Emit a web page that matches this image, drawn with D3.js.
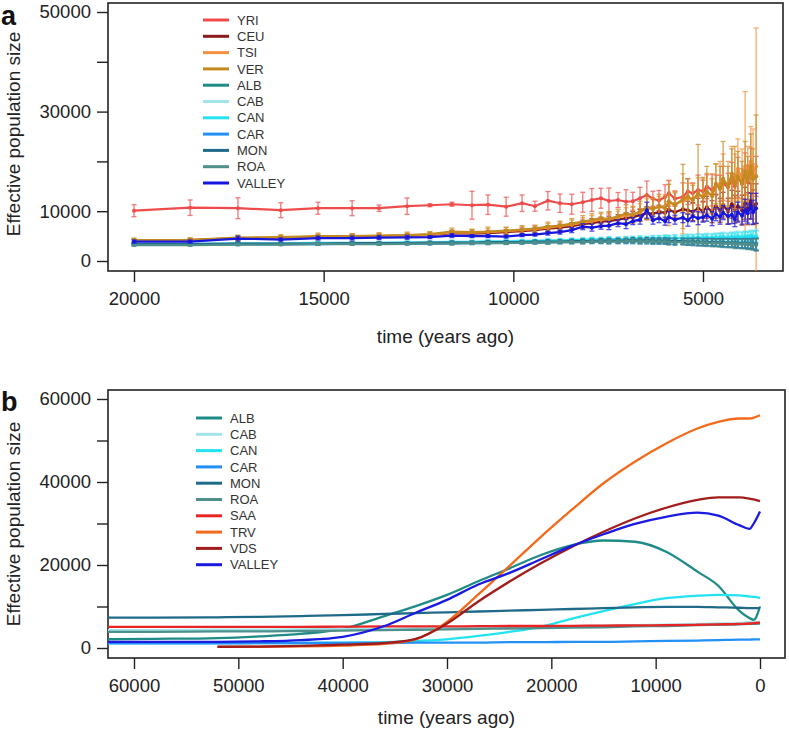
<!DOCTYPE html>
<html>
<head>
<meta charset="utf-8">
<script src="https://cdnjs.cloudflare.com/ajax/libs/d3/7.8.5/d3.min.js"></script>
<style>
  body { margin: 0; background: #fff; }
  svg { font-family: "Liberation Sans", Arial, Helvetica, sans-serif; }
</style>
</head>
<body>
<div id="chart"></div>
<script>
// ---------- panel a : time grid (years ago) and Ne estimates with error half-widths ----------
var timeA = [20000,18520,17260,16130,15150,14250,13540,12800,12200,11620,11090,10670,10190,9770,9430,9090,8770,8460,8170,
  7930,7690,7480,7240,7030,6850,6660,6480,6320,6160,6000,5900,5740,5530,5400,5270,5130,5000,4900,4760,4660,4550,4470,4340,4240,4160,4080,3970,3890,3820,3740,3680,3600];

var yri = [10100,10700,10600,10200,10600,10600,10600, 11000,11200,11400,11200,11300,10900,11600,11000,12100,11600,11400,11800,
  12250,12600,12050,12250,11900,12000,12600,13250,12500,12150,12900,13600,12500,12900,13950,13600,14250,14000,14900,14250,15260,14600,15600,14800,16200,15000,16800,15500,17500,15800,18200,16500,17000];
var yriErr = [1200,1550,2100,1500,1200,1500,650, 1650,300,400,2800,1950,1900,1650,1000,1850,1850,2000,2000,
  2300,2000,2600,1500,2400,1800,2200,2800,1500,2000,2400,2600,1500,2800,2600,2000,3000,2200,2400,3200,2000,2600,3400,2800,3600,2400,4000,3000,4200,3500,4500,3000,4000];

var ceu = [4100,4200,4600,4600,4800,4900,5000, 5100,5200,5600,5500,5600,5800,6000,6200,6500,6700,7000,7400,
  7600,7900,8000,8300,8600,8800,9200,9600,9500,9800,9700,10300,9800,10400,10200,9900,10600,10000,10800,9900,11000,10200,11200,10000,11400,10400,11000,10200,11600,10500,12000,10800,11500];
var ceuErr = [300,300,400,400,400,400,400,400,400,500,500,500,500,600,600,600,700,700,800,
  900,900,1000,1000,1100,1100,1200,1300,1300,1400,1400,1600,1500,1800,1800,1800,2000,2000,2200,2200,2400,2400,2600,2600,2800,2800,3000,3000,3200,3200,3500,3500,4000];

var tsi = [4100,4200,4500,4700,4900,5000,5000, 5100,5300,5700,5700,5800,6000,6200,6400,6700,7000,7300,7700,
  8000,8300,8500,8700,9200,9400,9800,10500,10600,10800,11000,11600,11500,12000,12600,12500,13200,13000,13600,13400,15000,15500,16500,15000,17500,16000,18500,16500,19000,17000,20000,17500,19000];
var tsiErr = [300,400,400,400,500,500,500,500,500,600,600,700,700,700,700,800,800,900,1000,
  1100,1200,1300,1300,1500,1600,1700,2000,2000,2200,2300,4500,2600,5500,3000,3200,3500,3500,4000,4000,4500,4500,5000,5000,5500,5500,6000,6000,15000,6000,7000,9000,27800];

var ver = [4200,4250,4700,4800,5000,5000,5100, 5200,5400,5900,5800,5900,6100,6300,6500,6900,7100,7500,7900,
  8200,8600,8400,9000,9500,9200,10000,10800,10400,11000,10600,12000,11200,12400,13000,12200,13600,12800,14000,13000,15500,14500,16500,15000,17500,15500,17000,15500,18000,16000,19000,16500,17000];
var verErr = [400,400,500,500,600,500,600,600,500,700,600,900,700,800,700,900,900,1000,1200,
  1300,1200,1500,1400,1800,1600,2000,2500,2000,2400,2200,3400,2500,7000,3500,3000,9800,4000,5000,3500,4000,4500,7500,4000,5000,7500,5000,4500,6000,5000,6500,6000,12300];

var albA = [3300,3300,3400,3400,3500,3500,3500, 3550,3600,3600,3700,3700,3700,3800,3800,3800,3900,3900,4000,
  4000,4000,4100,4000,4100,4100,4000,4100,4000,4100,4000,4000,3900,4000,3900,3900,3800,3900,3800,3800,3700,3800,3700,3700,3600,3700,3600,3600,3500,3600,3500,3500,3400];
var cabA = [3500,3500,3600,3600,3700,3700,3700, 3800,3800,3900,3900,4000,4000,4100,4100,4200,4200,4300,4300,
  4400,4400,4500,4400,4500,4500,4600,4500,4600,4600,4700,4600,4700,4700,4800,4700,4800,4800,4900,4800,4900,4900,5000,4900,5000,5000,5100,5000,5100,5000,5200,5100,5200];
var canA = [3400,3400,3500,3500,3600,3600,3600, 3700,3700,3800,3800,3900,3900,4000,4000,4100,4100,4200,4200,
  4300,4300,4400,4300,4400,4400,4500,4400,4500,4500,4600,4500,4600,4500,4600,4600,4700,4600,4700,4600,4700,4700,4800,4600,4800,4700,4900,4700,4900,4800,5000,4800,4900];
var carA = [3300,3300,3400,3400,3400,3500,3500, 3500,3500,3600,3600,3600,3700,3700,3700,3800,3800,3800,3900,
  3900,3900,3900,4000,3900,4000,4000,3900,4000,3900,3900,3900,3800,3900,3800,3800,3800,3700,3800,3700,3700,3700,3600,3700,3600,3600,3600,3500,3600,3500,3500,3500,3400];
var monA = [3400,3400,3500,3500,3500,3600,3600, 3600,3700,3700,3700,3800,3800,3800,3900,3900,3900,4000,4000,
  4000,4100,4100,4100,4100,4200,4100,4200,4100,4100,4100,4000,4000,4000,3900,3900,3900,3800,3800,3800,3700,3700,3700,3600,3600,3600,3500,3500,3500,3400,3400,3400,3300];
var roaA = [3200,3200,3300,3300,3400,3400,3400, 3450,3500,3500,3600,3600,3600,3700,3700,3700,3800,3800,3800,
  3900,3900,3900,3900,4000,4000,3900,4000,3900,3900,3900,3800,3800,3800,3800,3700,3700,3700,3600,3600,3600,3600,3500,3500,3500,3400,3400,3400,3400,3300,3300,3300,3200];
// the six low populations have tiny, near-identical bars
var errLow = [200,200,250,200,250,250,250,250,250,300,300,300,300,300,300,350,350,350,400,
  400,400,450,450,450,500,500,500,550,550,550,600,600,600,650,650,700,700,700,750,750,800,800,850,850,900,900,950,950,1000,1000,1100,1200];

var valleyA = [3900,3900,4500,4300,4600,4600,4700, 4750,4800,5100,5000,5000,4900,5200,5300,5600,5800,6200,6900,
  6700,7000,7100,7600,7400,8000,8300,10200,8200,8600,8000,8800,8300,8700,8200,9000,8600,8800,9200,8500,9400,8900,9700,9000,9300,8400,9800,9100,10200,9600,11000,9800,10600];
var valleyErr = [300,300,500,300,400,400,400,400,300,400,300,300,300,300,300,400,400,500,600,
  700,600,800,700,900,700,900,1600,800,900,800,1100,900,1000,1200,1100,1300,1000,1200,1400,1300,1500,1400,1600,1800,1500,2000,1700,2200,2000,2600,2400,3000];

var namesA  = ["YRI","CEU","TSI","VER","ALB","CAB","CAN","CAR","MON","ROA","VALLEY"];
var colorsA = ["#ef4b4b","#8b1a1a","#f5913f","#c38b1f","#1f8b87","#a2e4ea","#22e3ef","#2290f5","#1f6a88","#4e8f8c","#1616df"];
var valuesA = [yri, ceu, tsi, ver, albA, cabA, canA, carA, monA, roaA, valleyA];
var errorsA = [yriErr, ceuErr, tsiErr, verErr, errLow, errLow, errLow, errLow, errLow, errLow, valleyErr];

// ---------- panel b : smoothed Ne curves ----------
var timeB = [62500,58000,52000,48000,44000,40000,36000,33000,30000,27000,24000,21000,18000,15000,12000,9000,6000,4000,2000,1000,600,0];
var albB = [2100,2200,2400,2800,3400,4600,7700,10100,12800,16100,19200,22400,24800,25900,25600,23200,18400,15000,9000,7200,6800,10000];
var cabB = [4300,4300,4400,4400,4500,4600,4600,4700,4800,4900,5000,5100,5200,5400,5500,5600,5800,5900,6000,6200,6200,6300];
var canB = [1200,1200,1200,1200,1200,1300,1400,1700,2100,2900,3900,5100,7100,8900,10600,12000,12600,12800,12700,12400,12300,12100];
var carB = [1100,1100,1100,1200,1200,1200,1200,1300,1300,1300,1400,1400,1500,1500,1600,1700,1800,1900,2000,2000,2100,2100];
var monB = [7300,7300,7400,7500,7700,7900,8200,8400,8600,8800,9000,9200,9400,9600,9800,9900,9900,9800,9700,9600,9600,9600];
var roaB = [3900,3900,4000,4000,4100,4200,4300,4400,4500,4600,4700,4800,4900,5000,5200,5300,5500,5600,5700,5800,5800,5900];
var saaB = [5100,5100,5100,5100,5100,5150,5200,5200,5200,5250,5300,5300,5350,5400,5450,5500,5600,5700,5800,5900,6000,6100];
var trvB = [null,null,250,300,400,600,1000,2100,6300,12900,19800,26800,33400,39700,44900,49300,52900,54500,55300,55300,55500,56100];
var vdsB = [null,null,300,350,500,800,1200,2200,5900,11200,16000,20400,24400,28000,31200,33800,35700,36300,36300,36000,35800,35400];
var valleyB = [1500,1500,1500,1600,1900,2700,5300,8500,11600,15300,18100,21400,24600,27400,29900,31600,32600,31900,29600,28700,30000,32900];

var namesB  = ["ALB","CAB","CAN","CAR","MON","ROA","SAA","TRV","VDS","VALLEY"];
var colorsB = ["#1f8b87","#a2e4ea","#22e3ef","#2290f5","#1f6a88","#4e8f8c","#e82424","#f26a1b","#a31c1c","#1a1ae0"];
var valuesB = [albB, cabB, canB, carB, monB, roaB, saaB, trvB, vdsB, valleyB];

// tick values
var xTicksA = [20000, 15000, 10000, 5000];
var yTicksA = [0, 10000, 20000, 30000, 40000, 50000];
var yLabelsA = [0, 10000, 30000, 50000];
var xTicksB = [60000, 50000, 40000, 30000, 20000, 10000, 0];
var yTicksB = [0, 10000, 20000, 30000, 40000, 50000, 60000];
var yLabelsB = [0, 20000, 40000, 60000];

var svg = d3.select("#chart").append("svg")
  .attr("width", 789)
  .attr("height", 731);

// draws box, axes and titles for one panel, returns a clipped group for the marks
function frame(id, box, x, y, xTicks, yTicks, yLabels, letter, letterY, xTitleY, yTitleY) {
  var g = svg.append("g");

  g.append("clipPath").attr("id", id)
    .append("rect")
    .attr("x", box.left).attr("y", box.top)
    .attr("width", box.right - box.left).attr("height", box.bottom - box.top);

  var yAxis = d3.axisLeft(y)
    .tickValues(yTicks)
    .tickSize(11).tickSizeOuter(0).tickPadding(6)
    .tickFormat(function(d) { return yLabels.indexOf(d) >= 0 ? d : ""; });
  var xAxis = d3.axisBottom(x)
    .tickValues(xTicks)
    .tickSize(11).tickSizeOuter(0).tickPadding(10)
    .tickFormat(function(d) { return d; });

  g.append("g").attr("transform", "translate(" + box.left + ",0)").call(yAxis);
  g.append("g").attr("transform", "translate(0," + box.bottom + ")").call(xAxis);
  g.selectAll(".domain").remove();
  g.selectAll(".tick line").attr("stroke", "#222").attr("stroke-width", 1.4);
  g.selectAll(".tick text").attr("fill", "#222").style("font-size", "18.5px");

  g.append("rect")
    .attr("x", box.left).attr("y", box.top)
    .attr("width", box.right - box.left).attr("height", box.bottom - box.top)
    .attr("fill", "none").attr("stroke", "#222").attr("stroke-width", 1.6);

  g.append("text")
    .attr("x", (box.left + box.right) / 2).attr("y", xTitleY)
    .attr("text-anchor", "middle").style("font-size", "19px").attr("fill", "#222")
    .text("time (years ago)");

  g.append("text")
    .attr("transform", "translate(20," + yTitleY + ") rotate(-90)")
    .attr("text-anchor", "middle").style("font-size", "19px").attr("fill", "#222")
    .text("Effective population size");

  g.append("text")
    .attr("x", 1).attr("y", letterY)
    .style("font-size", "27px").style("font-weight", "bold").attr("fill", "#111")
    .text(letter);

  return svg.append("g").attr("clip-path", "url(#" + id + ")");
}

function legend(names, colors, x0, y0) {
  var lg = svg.append("g");
  var row = lg.selectAll("g").data(names).enter().append("g")
    .attr("transform", function(d, i) { return "translate(" + x0 + "," + (y0 + i * 16.3) + ")"; });
  row.append("line")
    .attr("x1", 0).attr("x2", 26)
    .attr("stroke", function(d, i) { return colors[i]; })
    .attr("stroke-width", 3);
  row.append("text")
    .attr("x", 34).attr("dy", "0.36em")
    .style("font-size", "13px").attr("fill", "#333")
    .text(function(d) { return d; });
}

// ---------- panel a ----------
var boxA = {left: 108, right: 783, top: 3, bottom: 271};
var xA = d3.scaleLinear().domain([20000, 5000]).range([134, 703]);
var yA = d3.scaleLinear().domain([0, 50000]).range([261, 12]);
var plotA = frame("clipA", boxA, xA, yA, xTicksA, yTicksA, yLabelsA, "a", 25, 343, 134);

var lineA = d3.line()
  .x(function(d) { return xA(d.t); })
  .y(function(d) { return yA(d.v); });

namesA.forEach(function(name, k) {
  var pts = timeA.map(function(t, i) { return {t: t, v: valuesA[k][i], e: errorsA[k][i]}; });
  var g = plotA.append("g").attr("class", "series-" + name);
  var col = colorsA[k];

  // error bars with small caps
  var bars = g.append("g").attr("stroke", col).attr("stroke-width", 1.3).attr("opacity", 0.75);
  bars.selectAll("line.bar").data(pts).enter().append("line")
    .attr("class", "bar")
    .attr("x1", function(d) { return xA(d.t); }).attr("x2", function(d) { return xA(d.t); })
    .attr("y1", function(d) { return yA(d.v - d.e); }).attr("y2", function(d) { return yA(d.v + d.e); });
  bars.selectAll("line.capHi").data(pts).enter().append("line")
    .attr("class", "capHi")
    .attr("x1", function(d) { return xA(d.t) - 2.5; }).attr("x2", function(d) { return xA(d.t) + 2.5; })
    .attr("y1", function(d) { return yA(d.v + d.e); }).attr("y2", function(d) { return yA(d.v + d.e); });
  bars.selectAll("line.capLo").data(pts).enter().append("line")
    .attr("class", "capLo")
    .attr("x1", function(d) { return xA(d.t) - 2.5; }).attr("x2", function(d) { return xA(d.t) + 2.5; })
    .attr("y1", function(d) { return yA(d.v - d.e); }).attr("y2", function(d) { return yA(d.v - d.e); });

  g.append("path")
    .datum(pts)
    .attr("fill", "none").attr("stroke", col).attr("stroke-width", 2.2)
    .attr("d", lineA);

  g.selectAll("circle").data(pts).enter().append("circle")
    .attr("cx", function(d) { return xA(d.t); })
    .attr("cy", function(d) { return yA(d.v); })
    .attr("r", 2).attr("fill", col);
});

legend(namesA, colorsA, 203, 20);

// ---------- panel b ----------
var boxB = {left: 108, right: 785, top: 390, bottom: 658};
var xB = d3.scaleLinear().domain([60000, 0]).range([134, 760]);
var yB = d3.scaleLinear().domain([0, 60000]).range([648, 399]);
var plotB = frame("clipB", boxB, xB, yB, xTicksB, yTicksB, yLabelsB, "b", 411, 724, 524);

var lineB = d3.line()
  .defined(function(d) { return d.v !== null; })
  .curve(d3.curveMonotoneX)
  .x(function(d) { return xB(d.t); })
  .y(function(d) { return yB(d.v); });

namesB.forEach(function(name, k) {
  var pts = timeB.map(function(t, i) { return {t: t, v: valuesB[k][i]}; });
  plotB.append("path")
    .datum(pts)
    .attr("fill", "none")
    .attr("stroke", colorsB[k])
    .attr("stroke-width", 2.3)
    .attr("d", lineB);
});

legend(namesB, colorsB, 196, 418);
</script>
</body>
</html>
